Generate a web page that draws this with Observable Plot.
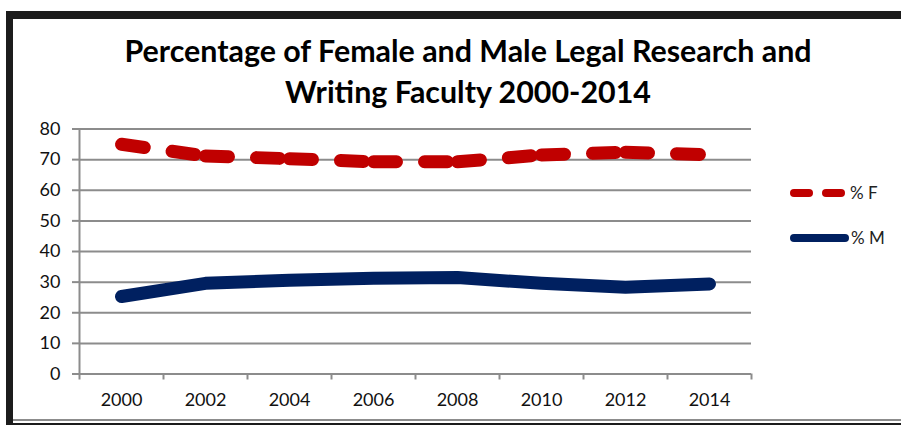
<!DOCTYPE html>
<html>
<head>
<meta charset="utf-8">
<script src="https://cdn.jsdelivr.net/npm/d3@7"></script>
<script src="https://cdn.jsdelivr.net/npm/@observablehq/plot@0.6"></script>
<style>
  html, body { margin: 0; padding: 0; background: #fff; }
  #wrap { position: relative; width: 901px; height: 425px; overflow: hidden; font-family: Lato, "Open Sans", sans-serif; }
  #topbar { position: absolute; left: 6px; top: 11px; width: 895px; height: 8px; background: #1c1c1c; }
  #leftbar { position: absolute; left: 6px; top: 11px; width: 7px; height: 414px; background: #1c1c1c; }
  #botgray { position: absolute; left: 13px; top: 419px; width: 888px; height: 2px; background: #8c8c8c; }
  #botblack { position: absolute; left: 13px; top: 423px; width: 888px; height: 2px; background: #1c1c1c; }
  #title { position: absolute; left: 0; width: 936px; top: 30px; text-align: center; font-weight: 700; font-size: 30.4px; line-height: 41px; color: #000; }
  #chart { position: absolute; left: 0; top: 110px; }
  #legend { position: absolute; left: 0; top: 0; }
</style>
</head>
<body>
<div id="wrap">
  <div id="topbar"></div>
  <div id="leftbar"></div>
  <div id="botgray"></div>
  <div id="botblack"></div>
  <div id="title">Percentage of Female and Male Legal Research and<br>Writing Faculty 2000-2014</div>
  <div id="chart"></div>
  <svg id="legend" width="901" height="425" font-family="Lato, 'Open Sans', sans-serif">
    <line x1="794" y1="193" x2="809" y2="193" stroke="#C00000" stroke-width="8" stroke-linecap="round"/>
    <line x1="826" y1="193" x2="841" y2="193" stroke="#C00000" stroke-width="8" stroke-linecap="round"/>
    <text x="850" y="199" font-size="17" fill="#222">% F</text>
    <line x1="794" y1="238" x2="845" y2="238" stroke="#002060" stroke-width="8" stroke-linecap="round"/>
    <text x="851" y="244" font-size="17" fill="#222">% M</text>
  </svg>
</div>
<script>
const years = [2000, 2002, 2004, 2006, 2008, 2010, 2012, 2014];
const pctF = [75, 71.2, 70.3, 69.3, 69.3, 71.5, 72.4, 71.6];
const pctM = [25.3, 29.6, 30.6, 31.3, 31.5, 29.6, 28.3, 29.4];
const yTicks = [0, 10, 20, 30, 40, 50, 60, 70, 80];
const xBounds = [1999, 2001, 2003, 2005, 2007, 2009, 2011, 2013, 2015];

const rowsM = years.map((y, i) => ({year: y, value: pctM[i]}));
const segF = years.slice(1).map((y, i) => ({x1: years[i], y1: pctF[i], x2: y, y2: pctF[i + 1]}));

const grid = "#8c8c8c";
const chart = Plot.plot({
  width: 901,
  height: 315,
  marginLeft: 79,
  marginRight: 150,
  marginTop: 18.5,
  marginBottom: 51.5,
  style: {fontFamily: "Lato, 'Open Sans', sans-serif", fontSize: "18px", color: "#111", background: "transparent", overflow: "visible"},
  x: {domain: [1999, 2015], axis: null},
  y: {domain: [0, 80], axis: null},
  marks: [
    Plot.gridY(yTicks, {stroke: grid, strokeOpacity: 1, strokeWidth: 2}),
    Plot.axisY({ticks: yTicks, tickSize: 7, tickPadding: 12, stroke: grid, strokeWidth: 2, label: null, fill: "#111", fontSize: 18}),
    Plot.ruleX([1999], {y1: 0, y2: 80, stroke: grid, strokeWidth: 2}),
    Plot.axisX({ticks: xBounds, tickSize: 6, tickFormat: () => "", stroke: grid, strokeWidth: 2, label: null}),
    Plot.axisX({ticks: years, tickSize: 0, tickPadding: 19, tickFormat: d => String(d), label: null, fill: "#111", fontSize: 18}),
    Plot.line(rowsM, {x: "year", y: "value", stroke: "#002060", strokeWidth: 13, strokeLinecap: "round", strokeLinejoin: "round"}),
    Plot.link(segF, {x1: "x1", y1: "y1", x2: "x2", y2: "y2", stroke: "#C00000", strokeWidth: 13, strokeDasharray: "23,28", strokeLinecap: "round"})
  ]
});
document.getElementById("chart").appendChild(chart);
</script>
</body>
</html>
